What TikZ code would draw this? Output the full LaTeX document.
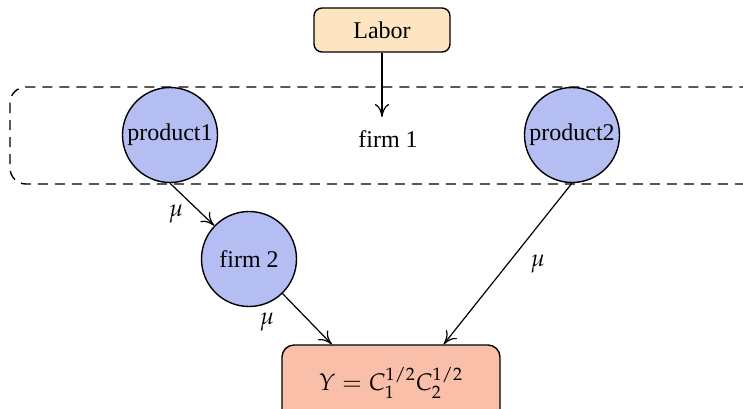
\documentclass[tikz,border=0pt]{standalone}
\usepackage{mathpazo}
\usepackage[no-math]{fontspec}
\setmainfont{Liberation Serif}
\usetikzlibrary{arrows.meta,calc}

\definecolor{laborfill}{HTML}{FCE5C0}
\definecolor{prodfill}{HTML}{B4BEF3}
\definecolor{outfill}{HTML}{F9BFA8}

\tikzset{
  base/.style={draw=black, line width=0.7pt, font=\fontsize{12}{14}\selectfont},
  roundbox/.style={base, rectangle, rounded corners=4pt},
  agent/.style={base, circle, fill=prodfill, inner sep=0pt, minimum size=47.5pt},
  cluster/.style={draw=black, line width=0.7pt, dash pattern=on 5pt off 3.5pt, rounded corners=8pt},
  flow/.style={draw=black, line width=0.6pt, -{To[length=6.5pt,width=7pt]}},
  mulabel/.style={font=\fontsize{12}{14}\selectfont, midway},
}

\begin{document}
\begin{tikzpicture}[x=0.5pt, y=-0.5pt]
\useasboundingbox (0,0) rectangle (743,408);

% firm 1: dashed cluster holding both products
\draw[cluster] (10,87) rectangle (760,184);
\node[font=\fontsize{12}{14}\selectfont] (firm1) at (388,139) {firm 1};
\coordinate (firm1in) at (382,117);

% nodes
\node[roundbox, fill=laborfill, minimum width=68pt, minimum height=22pt] (labor) at (382,30) {Labor};
\node[agent] (p1) at (170,135) {product1};
\node[agent] (p2) at (572,135) {product2};
\node[agent] (f2) at (249,259) {firm 2};
\node[roundbox, fill=outfill, rounded corners=6pt, minimum width=109pt, minimum height=38pt] (Y) at (391,383) {$Y = C_1^{1/2}C_2^{1/2}$};

% connectors
\draw[flow] (labor.south) -- (firm1in);
\draw[flow] (p1.south) -- node[mulabel, xshift=-8pt, yshift=-5pt] {$\mu$} (f2);
\draw[flow] (f2) -- node[mulabel, xshift=-20pt, yshift=-1.5pt] {$\mu$} ($(Y.north west)!0.23!(Y.north east)$);
\draw[flow] (p2.south) -- node[mulabel, xshift=15pt, yshift=0pt] {$\mu$} ($(Y.north west)!0.74!(Y.north east)$);
\end{tikzpicture}
\end{document}
